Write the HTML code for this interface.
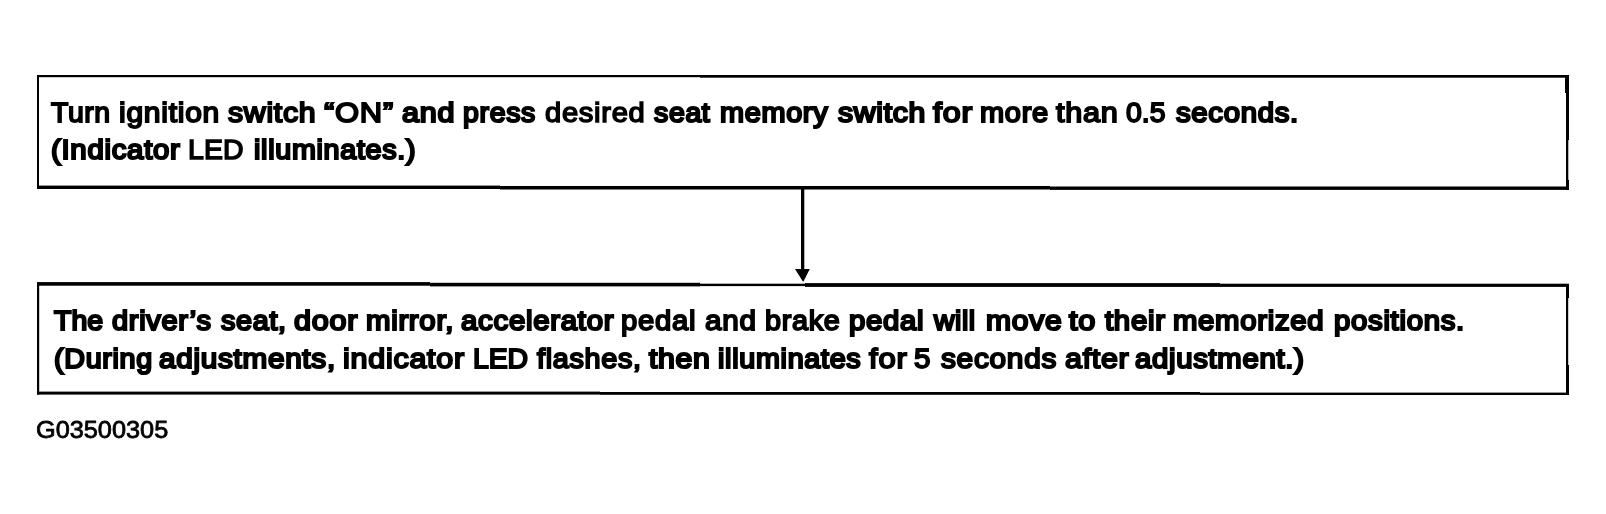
<!DOCTYPE html>
<html>
<head>
<meta charset="utf-8">
<style>
html,body{margin:0;padding:0;background:#fff;}
body{width:1606px;height:514px;position:relative;overflow:hidden;font-family:"Liberation Sans",sans-serif;color:#000;}
.l{position:absolute;background:#000;}
.t{position:absolute;white-space:nowrap;font-weight:normal;font-size:28.4px;line-height:34px;height:34px;-webkit-text-stroke:1.8px #000;will-change:transform;transform-origin:0 0;}
.g{position:absolute;white-space:nowrap;font-size:24.8px;line-height:28px;height:28px;-webkit-text-stroke:0.8px #000;will-change:transform;transform-origin:0 0;transform:scaleX(1.02);}
</style>
</head>
<body>
<!-- box 1 -->
<svg style="position:absolute;left:0;top:0" width="1606" height="514" viewBox="0 0 1606 514" fill="#000">
<rect x="37" y="75" width="663" height="2.2"/>
<rect x="700" y="75" width="869" height="2.7"/>
<rect x="37" y="75" width="2" height="114"/>
<rect x="1565" y="75" width="4" height="18"/>
<rect x="1566" y="92" width="3" height="48"/>
<rect x="1566" y="140" width="2.3" height="50"/>
<rect x="1566" y="180" width="3" height="10"/>
<rect x="37" y="185.6" width="463" height="3.4"/>
<rect x="500" y="186" width="550" height="3.5"/>
<rect x="1050" y="186.5" width="519" height="3.4"/>
<rect x="801" y="189" width="3.3" height="82"/>
<rect x="37" y="282.1" width="393" height="3.6"/>
<rect x="430" y="282.8" width="270" height="3.6"/>
<rect x="700" y="283.7" width="105" height="2.4"/>
<rect x="805" y="283.1" width="415" height="3.8"/>
<rect x="1220" y="283.7" width="349" height="3.2"/>
<rect x="37" y="282.1" width="2.2" height="112.4"/>
<rect x="1566" y="284" width="2.2" height="111"/>
<rect x="1566" y="284" width="3" height="14"/>
<rect x="1566" y="365" width="3" height="30"/>
<rect x="37" y="391.6" width="563" height="3"/>
<rect x="600" y="392" width="600" height="2.8"/>
<rect x="1200" y="392.6" width="369" height="2.4"/>
<path d="M795 269 L809.8 269 L803.2 282 Z"/>
</svg>
<!-- text -->
<span class="t" style="left:51.00px;top:95px;letter-spacing:0.589px">Turn</span>
<span class="t" style="left:119.19px;top:95px;letter-spacing:0.700px;transform:scaleX(1.0567)">ignition</span>
<span class="t" style="left:228.36px;top:95px;letter-spacing:0.700px;transform:scaleX(1.0631);-webkit-text-stroke-width:2.0px">switch</span>
<span class="t" style="left:323.79px;top:95px;letter-spacing:0.700px;transform:scaleX(1.0885)">“ON”</span>
<span class="t" style="left:402.11px;top:95px;letter-spacing:0.700px;transform:scaleX(1.0731);-webkit-text-stroke-width:2.2px">and</span>
<span class="t" style="left:462.50px;top:95px;letter-spacing:0.700px;-webkit-text-stroke-width:2.2px">press</span>
<span class="t" style="left:544.87px;top:95px;letter-spacing:0.700px;transform:scaleX(1.0252);-webkit-text-stroke-width:1.55px">desired</span>
<span class="t" style="left:654.20px;top:95px;letter-spacing:0.700px;-webkit-text-stroke-width:2.2px">seat</span>
<span class="t" style="left:719.60px;top:95px;letter-spacing:0.700px;transform:scaleX(1.0145);-webkit-text-stroke-width:2.2px">memory</span>
<span class="t" style="left:837.57px;top:95px;letter-spacing:0.700px;transform:scaleX(1.0605);-webkit-text-stroke-width:2.2px">switch</span>
<span class="t" style="left:933.33px;top:95px;letter-spacing:0.700px;transform:scaleX(1.1337);-webkit-text-stroke-width:2.0px">for</span>
<span class="t" style="left:980.10px;top:95px;letter-spacing:0.700px;transform:scaleX(1.0195);-webkit-text-stroke-width:2.0px">more</span>
<span class="t" style="left:1056.37px;top:95px;letter-spacing:0.700px;transform:scaleX(1.0773)">than</span>
<span class="t" style="left:1126.40px;top:95px;letter-spacing:0.011px">0.5</span>
<span class="t" style="left:1175.63px;top:95px;letter-spacing:0.700px;transform:scaleX(1.0308);-webkit-text-stroke-width:2.2px">seconds.</span>
<span class="t" style="left:51.40px;top:132px;letter-spacing:0.700px;transform:scaleX(1.0336);-webkit-text-stroke-width:2.2px">(Indicator</span>
<span class="t" style="left:188.38px;top:132px;letter-spacing:0.112px;-webkit-text-stroke-width:1.55px">LED</span>
<span class="t" style="left:254.10px;top:132px;letter-spacing:0.700px;transform:scaleX(1.0106);-webkit-text-stroke-width:2.2px">illuminates.)</span>
<span class="t" style="left:53.70px;top:303px;letter-spacing:0.084px;-webkit-text-stroke-width:2.2px">The</span>
<span class="t" style="left:111.60px;top:303px;letter-spacing:0.700px;transform:scaleX(1.0200);-webkit-text-stroke-width:2.2px">driver’s</span>
<span class="t" style="left:220.61px;top:303px;letter-spacing:0.700px;transform:scaleX(1.0114);-webkit-text-stroke-width:2.2px">seat,</span>
<span class="t" style="left:294.31px;top:303px;letter-spacing:0.700px;transform:scaleX(1.0743);-webkit-text-stroke-width:2.2px">door</span>
<span class="t" style="left:365.80px;top:303px;letter-spacing:0.700px;transform:scaleX(1.0328);-webkit-text-stroke-width:2.2px">mirror,</span>
<span class="t" style="left:460.50px;top:303px;letter-spacing:0.700px;transform:scaleX(1.0345);-webkit-text-stroke-width:2.2px">accelerator</span>
<span class="t" style="left:621.30px;top:303px;letter-spacing:0.700px;transform:scaleX(1.0298)">pedal</span>
<span class="t" style="left:705.10px;top:303px;letter-spacing:0.700px;transform:scaleX(1.0444)">and</span>
<span class="t" style="left:764.90px;top:303px;letter-spacing:0.700px;transform:scaleX(1.0132)">brake</span>
<span class="t" style="left:848.90px;top:303px;letter-spacing:0.700px;transform:scaleX(1.0325);-webkit-text-stroke-width:2.2px">pedal</span>
<span class="t" style="left:934.10px;top:303px;letter-spacing:0.561px;-webkit-text-stroke-width:2.2px">will</span>
<span class="t" style="left:985.61px;top:303px;letter-spacing:0.700px;transform:scaleX(1.0565);-webkit-text-stroke-width:2.2px">move</span>
<span class="t" style="left:1069.49px;top:303px;letter-spacing:0.700px;transform:scaleX(1.0819);-webkit-text-stroke-width:2.2px">to</span>
<span class="t" style="left:1104.94px;top:303px;letter-spacing:0.700px;transform:scaleX(1.0322);-webkit-text-stroke-width:2.2px">their</span>
<span class="t" style="left:1173.30px;top:303px;letter-spacing:0.700px;transform:scaleX(1.0308);-webkit-text-stroke-width:2.2px">memorized</span>
<span class="t" style="left:1333.70px;top:303px;letter-spacing:0.700px;transform:scaleX(1.0314);-webkit-text-stroke-width:2.2px">positions.</span>
<span class="t" style="left:53.50px;top:341px;letter-spacing:0.700px;transform:scaleX(1.0093);-webkit-text-stroke-width:2.2px">(During</span>
<span class="t" style="left:159.40px;top:341px;letter-spacing:0.700px;transform:scaleX(1.0442);-webkit-text-stroke-width:2.2px">adjustments,</span>
<span class="t" style="left:343.40px;top:341px;letter-spacing:0.700px;transform:scaleX(1.0727);-webkit-text-stroke-width:2.0px">indicator</span>
<span class="t" style="left:473.00px;top:341px;letter-spacing:-0.100px;-webkit-text-stroke-width:2.0px">LED</span>
<span class="t" style="left:536.81px;top:341px;letter-spacing:0.700px;transform:scaleX(1.0121);-webkit-text-stroke-width:2.0px">flashes,</span>
<span class="t" style="left:648.87px;top:341px;letter-spacing:0.700px;transform:scaleX(1.0612);-webkit-text-stroke-width:2.2px">then</span>
<span class="t" style="left:718.00px;top:341px;letter-spacing:0.700px;transform:scaleX(1.0111);-webkit-text-stroke-width:2.2px">illuminates</span>
<span class="t" style="left:869.39px;top:341px;letter-spacing:0.700px;transform:scaleX(1.0954)">for</span>
<span class="t" style="left:914.40px;top:341px;letter-spacing:0.000px;transform:scaleX(1.0443)">5</span>
<span class="t" style="left:941.05px;top:341px;letter-spacing:0.700px;transform:scaleX(1.0488);-webkit-text-stroke-width:2.0px">seconds</span>
<span class="t" style="left:1064.50px;top:341px;letter-spacing:0.700px;transform:scaleX(1.0689);-webkit-text-stroke-width:2.0px">after</span>
<span class="t" style="left:1134.70px;top:341px;letter-spacing:0.700px;transform:scaleX(1.0302);-webkit-text-stroke-width:2.2px">adjustment.)</span>
<div class="g" id="g1" style="left:35.6px;top:416px">G03500305</div>
</body>
</html>
